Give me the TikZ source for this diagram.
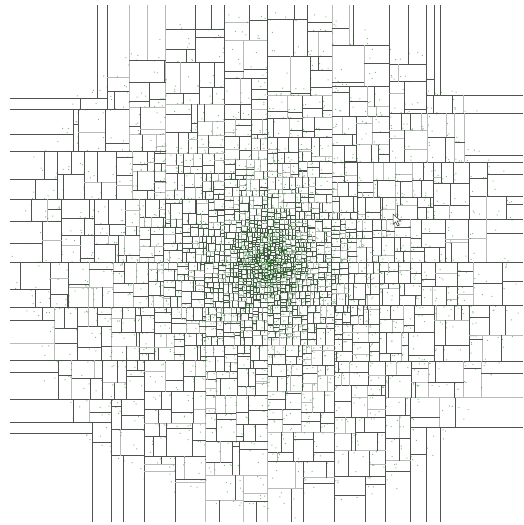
\documentclass[tikz,border=0pt]{standalone}
\usetikzlibrary{calc}

% kd-tree over a cloud in a disc centred at the origin (units: pixels)
% density ~ 1/(r0^2 + x^2 + y^2) for r < R
\newcommand{\kdrzero}{26}
\newcommand{\kdrad}{258}
\newcommand{\kdbucket}{3}
\newcount\kdk
\newif\ifkdmore

% \kdmedian{a}{b}{lo}{hi}{n}: jittered median in [a,b], other axis in [lo,hi]
% (marginal integrated in t = asinh(x/r0), six slices)
\newcommand{\kdmedian}[5]{%
	\pgfmathsetmacro\kdta{ln((#1)/\kdrzero+sqrt(((#1)/\kdrzero)^2+1))}%
	\pgfmathsetmacro\kdtb{ln((#2)/\kdrzero+sqrt(((#2)/\kdrzero)^2+1))}%
	\pgfmathsetmacro\kddt{(\kdtb-\kdta)/6}%
	\def\kdsum{0}\kdk=0
	\loop
		\pgfmathsetmacro\kdxs{\kdrzero*sinh(\kdta+(\the\kdk+0.5)*\kddt)}%
		\pgfmathsetmacro\kdc{veclen(\kdrzero,\kdxs)}%
		\pgfmathsetmacro\kdw{\kdrad*sqrt(max(0,1-(\kdxs/\kdrad)^2))}%
		\pgfmathsetmacro\kdv{max(0,atan(min(#4,\kdw)/\kdc)-atan(max(#3,-\kdw)/\kdc))}%
		\expandafter\let\csname kdh\the\kdk\endcsname\kdv
		\pgfmathsetmacro\kdsum{\kdsum+\kdv}%
		\advance\kdk by 1
	\ifnum\kdk<6 \repeat
	\pgfmathsetmacro\kdq{max(0.12,min(0.88,0.5+(rnd+rnd-1)*1.2/sqrt(#5+2)))}%
	\ifdim\kdsum pt<0.0005pt
		\pgfmathsetmacro\kdm{(#1)+\kdq*((#2)-(#1))}%
	\else
		\pgfmathsetmacro\kdgoal{\kdq*\kdsum}%
		\def\kdcum{0}\kdk=0
		\loop
			\edef\kdhk{\csname kdh\the\kdk\endcsname}%
			\pgfmathsetmacro\kdcumn{\kdcum+\kdhk}%
			\ifdim\kdcumn pt<\kdgoal pt
				\let\kdcum\kdcumn \advance\kdk by 1 \kdmoretrue
			\else
				\kdmorefalse
			\fi
			\ifnum\kdk>5 \kdmorefalse\fi
		\ifkdmore\repeat
		\ifnum\kdk>5
			\kdk=5 \def\kdfrac{1}%
		\else
			\pgfmathsetmacro\kdfrac{max(0,min(1,(\kdgoal-\kdcum)/\kdhk))}%
		\fi
		\pgfmathsetmacro\kdm{\kdrzero*sinh(\kdta+(\the\kdk+\kdfrac)*\kddt)}%
	\fi}

% \kdhalf\macro{lo}{hi}: half width of the disc over the range [lo,hi]
\newcommand{\kdhalf}[3]{%
	\ifdim#2pt<0pt
		\ifdim#3pt>0pt \def#1{\kdrad}%
		\else \pgfmathsetmacro#1{\kdrad*sqrt(max(0,1-((#3)/\kdrad)^2))}\fi
	\else
		\pgfmathsetmacro#1{\kdrad*sqrt(max(0,1-((#2)/\kdrad)^2))}%
	\fi}

% \kdextent\macro{a}{b}{lo}{hi}: length of [a,b] inside the disc, other axis in [lo,hi]
\newcommand{\kdextent}[5]{%
	\kdhalf\kdhw{#4}{#5}%
	\pgfmathsetmacro#1{max(0,min(#3,\kdhw)-max(#2,-\kdhw))}}

\newcommand{\kdline}[1]{%
	\pgfmathtruncatemacro\kdtone{rnd<0.3}%
	\ifnum\kdtone=1 \draw[splitlight] #1;\else \draw[splitdark] #1;\fi}

\newcommand{\kdcounts}[1]{%
	\pgfmathtruncatemacro\kdnl{#1/2+(rnd<0.5)*0.5}%
	\pgfmathtruncatemacro\kdnr{#1-\kdnl}}

% sample positions, pulled towards the side facing the centre
\newcommand{\kdbias}[3]{%
	\ifdim#2pt<0pt
		\ifdim#3pt>0pt \edef#1{#2+rnd*(#3-(#2))}\else \edef#1{#3-rnd*rnd*(#3-(#2))}\fi
	\else
		\edef#1{#2+rnd*rnd*(#3-(#2))}%
	\fi}

\newcommand{\kdleaf}[5]{%
	\kdhalf\kdhx{#3}{#4}\kdhalf\kdhy{#1}{#2}%
	\pgfmathsetmacro\kdxa{max(#1,-\kdhx)}\pgfmathsetmacro\kdxb{min(#2,\kdhx)}%
	\pgfmathsetmacro\kdya{max(#3,-\kdhy)}\pgfmathsetmacro\kdyb{min(#4,\kdhy)}%
	\kdbias\kdpx{\kdxa}{\kdxb}\kdbias\kdpy{\kdya}{\kdyb}%
	\fill[sample] \foreach \kdi in {1,...,#5}{({\kdpx},{\kdpy}) rectangle ++(1,1)};}

\newcommand{\kdsplitx}[5]{%
	\kdmedian{#1}{#2}{#3}{#4}{#5}%
	\kdline{(\kdm,#3) -- (\kdm,#4)}%
	\kdcounts{#5}%
	\edef\kdnext{\noexpand\kdcell{#1}{\kdm}{#3}{#4}{\kdnl}%
		\noexpand\kdcell{\kdm}{#2}{#3}{#4}{\kdnr}}%
	\kdnext}

\newcommand{\kdsplity}[5]{%
	\kdmedian{#3}{#4}{#1}{#2}{#5}%
	\kdline{(#1,\kdm) -- (#2,\kdm)}%
	\kdcounts{#5}%
	\edef\kdnext{\noexpand\kdcell{#1}{#2}{#3}{\kdm}{\kdnl}%
		\noexpand\kdcell{#1}{#2}{\kdm}{#4}{\kdnr}}%
	\kdnext}

% \kdcell{x0}{x1}{y0}{y1}{points}: split along the wider spread
\newcommand{\kdcell}[5]{%
	\begingroup
	\ifnum#5>\kdbucket\relax
		\kdextent\kdex{#1}{#2}{#3}{#4}%
		\kdextent\kdey{#3}{#4}{#1}{#2}%
		\ifdim\kdex pt<\kdey pt
			\kdsplity{#1}{#2}{#3}{#4}{#5}%
		\else
			\kdsplitx{#1}{#2}{#3}{#4}{#5}%
		\fi
	\else
		\kdleaf{#1}{#2}{#3}{#4}{#5}%
	\fi
	\endgroup}

\begin{document}
\begin{tikzpicture}[
		x=1pt, y=-1pt,
		% split lines
		splitdark/.style={draw=black!68, line width=0.6pt},
		splitlight/.style={draw=black!27, line width=0.9pt},
		% sample points
		sample/.style={fill=green!50!black, fill opacity=0.5},
		% mouse pointer
		pointer/.style={fill=white, draw=black!80, line width=0.5pt, line join=miter}
	]

	% ==========================================
	% 1. CANVAS (524 x 525 px, origin at the cloud centre)
	% ==========================================
	\useasboundingbox (-268,-262) rectangle (256,263);
	\fill[white] (-268,-262) rectangle (256,263);

	% ==========================================
	% 2. KD-TREE
	% ==========================================
	\pgfmathsetseed{4711}
	\kdcell{-258}{255}{-257}{260}{6000}

	% ==========================================
	% 3. POINTER
	% ==========================================
	\filldraw[pointer] (125,-48) -- (125,-37.5) -- (127.6,-40.2) -- (129.6,-36) -- (131.2,-36.7)
		-- (129.3,-40.9) -- (132.8,-40.9) -- cycle;

\end{tikzpicture}
\end{document}
